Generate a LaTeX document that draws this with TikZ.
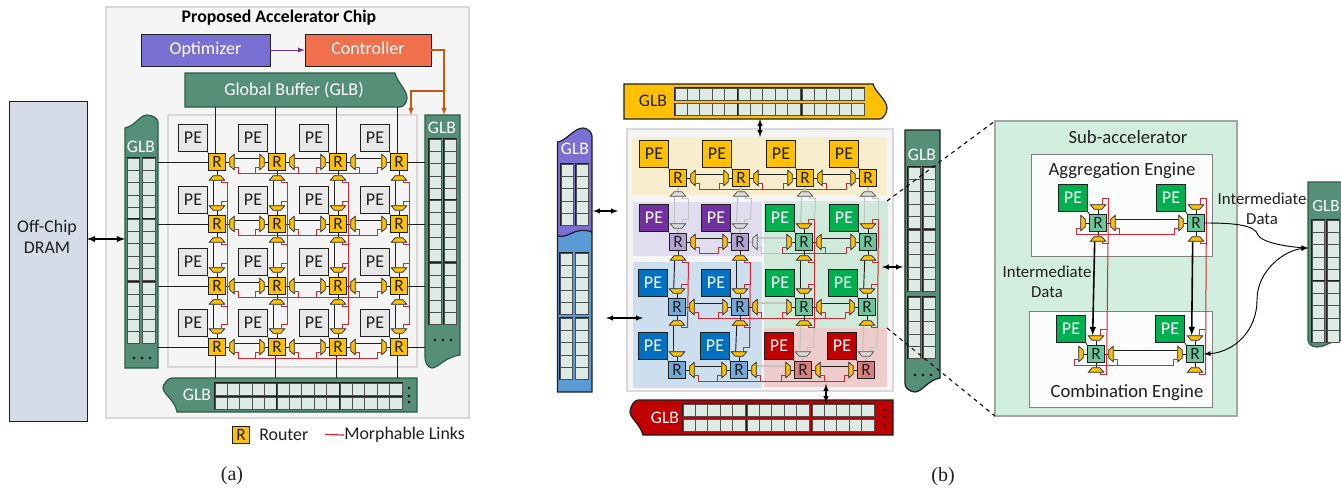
\documentclass[tikz,border=0pt]{standalone}
\usepackage{fontspec}
\setmainfont{Carlito}
\newfontfamily\capfont{Liberation Serif}
\usetikzlibrary{shapes.geometric}

% one router side: mux node plus the stub back to the router
\newcommand{\muxE}[2]{\node[muxbox,mux#2,rotate=90] (#1e) at ([xshift=11.25pt]#1.center) {};\draw[wire#2] (#1.east) -- (#1e.north);}
\newcommand{\muxW}[2]{\node[muxbox,mux#2,rotate=-90] (#1w) at ([xshift=-11.25pt]#1.center) {};\draw[wire#2] (#1.west) -- (#1w.north);}
\newcommand{\muxS}[2]{\node[muxbox,mux#2] (#1s) at ([yshift=-12pt]#1.center) {};\draw[wire#2] (#1.south) -- (#1s.north);}
\newcommand{\muxN}[2]{\node[muxbox,mux#2,rotate=180] (#1n) at ([yshift=12pt]#1.center) {};\draw[wire#2] (#1.north) -- (#1n.north);}
% hops between neighbours: A, B, state of A's mux, state of B's mux, state of the wire
\newcommand{\hhop}[5]{\muxE{#1}{#3}\muxW{#2}{#4}\draw[wire#5] ([yshift=3pt]#1e.south) -- ([yshift=3pt]#2w.south);}
\newcommand{\vhop}[5]{\muxS{#1}{#3}\muxN{#2}{#4}\draw[wire#5] ([xshift=-2.5pt]#1s.south) -- ([xshift=-2.5pt]#2n.south);}
% taps from a mux onto a morphable bus
\newcommand{\tapE}[2]{\draw[morph#2] ([yshift=-3.75pt]#1e.south) -- ++(4,0) -- ++(0,6.5) coordinate (#1et);}
\newcommand{\tapW}[2]{\draw[morph#2] ([yshift=-3.75pt]#1w.south) -- ++(-4,0) -- ++(0,6.5) coordinate (#1wt);}
\newcommand{\tapS}[3]{\draw[morph#2] ([xshift=3pt]#1s.south) -- ++(0,#3) -- ++(6.5,0) coordinate (#1st);}
\newcommand{\tapN}[3]{\draw[morph#2] ([xshift=3pt]#1n.south) -- ++(0,-#3) -- ++(6.5,0) coordinate (#1nt);}
% bank of buffer cells: x, y, columns, rows
\newcommand{\cellbank}[4]{\draw[bankedge] (#1,#2) rectangle ({#1+#3*\cellw},{#2+#4*\cellh});
\foreach \i in {1,...,#3}{\foreach \j in {1,...,#4}{\draw[cellbox] ({#1+(\i-1)*\cellw},{#2+(\j-1)*\cellh}) rectangle ({#1+\i*\cellw},{#2+\j*\cellh});}}}
\newcommand{\cellw}{12.4}
\newcommand{\cellh}{12.3}

\tikzset{
  routerbox/.style={draw=ink,line width=0.8pt,minimum width=12.6pt,minimum height=13.2pt,inner sep=0pt,font=\fontsize{13}{13}\selectfont,text=ink},
  pebox/.style={draw=ink,line width=0.8pt,minimum width=21.5pt,minimum height=20.5pt,inner sep=0pt,font=\fontsize{13.5}{13.5}\selectfont},
  muxbox/.style={trapezium,trapezium stretches=true,trapezium left angle=65,trapezium right angle=65,minimum width=11.5pt,minimum height=3.3pt,inner sep=0.2pt,line width=0.5pt},
  muxon/.style={fill=gold,draw=ink},
  muxoff/.style={fill=rule,draw=inkii},
  wireon/.style={draw=ink,line width=0.7pt},
  wireoff/.style={draw=ashline,line width=0.9pt},
  morphon/.style={draw=morph,line width=0.75pt},
  morphoff/.style={draw=ashline,line width=0.75pt},
  bankedge/.style={draw=ink,line width=1pt},
  cellbox/.style={draw=inkii,fill=cell,line width=0.6pt},
  glbshell/.style={line width=0.9pt},
  label/.style={font=\fontsize{13.4}{15.5}\selectfont,text=ink,align=center,inner sep=0pt},
  enginetag/.style={font=\fontsize{14}{14}\selectfont,text=ink,inner sep=0pt},
  smalltag/.style={font=\fontsize{12.6}{15}\selectfont,text=ink,align=center,inner sep=0pt},
  glbtag/.style={font=\fontsize{13.2}{13.2}\selectfont,inner sep=0pt},
  capfig/.style={font=\capfont\fontsize{15}{15}\selectfont,inner sep=0pt,text=ink},
  ctrlbox/.style={draw=ink,text=white,minimum height=24pt,inner sep=0pt,text height=11pt,text depth=4pt,font=\fontsize{13.5}{13.5}\selectfont}
}

\begin{document}
\begin{tikzpicture}[x=0.75pt,y=-0.75pt,>=latex]
\definecolor{ink}{HTML}{1F1F1F}\definecolor{inkii}{HTML}{4F4F4F}
\definecolor{rule}{HTML}{D9D9D9}\definecolor{ashline}{HTML}{C4C4C4}
\definecolor{paper}{HTML}{F5F5F5}\definecolor{pegrey}{HTML}{E8E8E8}
\definecolor{gold}{HTML}{FFC000}\definecolor{morph}{HTML}{CF2B36}
\definecolor{cell}{HTML}{DEEBE4}\definecolor{glbgreen}{HTML}{558F78}
\definecolor{glbedge}{HTML}{2B5C4A}\definecolor{optfill}{HTML}{7A6FD2}
\definecolor{ctlfill}{HTML}{F0704D}\definecolor{optline}{HTML}{7030A0}
\definecolor{ctlline}{HTML}{C55A11}\definecolor{dram}{HTML}{D5DCE8}
\definecolor{pepurple}{HTML}{7030A0}\definecolor{peblue}{HTML}{0070C0}
\definecolor{pegreen}{HTML}{00B050}\definecolor{pered}{HTML}{C00000}
\definecolor{rpurple}{HTML}{B3A2D2}\definecolor{rblue}{HTML}{74A8D8}
\definecolor{rgreen}{HTML}{6CC59B}\definecolor{rred}{HTML}{D97F7F}
\definecolor{zoneyel}{HTML}{F8EECD}\definecolor{zonepur}{HTML}{E0DEEE}
\definecolor{zoneblu}{HTML}{CDDFEE}\definecolor{zonegrn}{HTML}{CFE9DA}
\definecolor{zonered}{HTML}{EFCCCC}\definecolor{glbpurple}{HTML}{7A6FD2}
\definecolor{glbblue}{HTML}{5B9BD5}\definecolor{subfill}{HTML}{D2EEDF}
\useasboundingbox (0,0) rectangle (1341,489);

% ---- (a) proposed chip
\fill[paper,draw=rule,line width=1pt] (106,7) rectangle (469,418);
\fill[paper,draw=rule,line width=1pt] (168,115) rectangle (417,367);
\node[font=\fontsize{13.3}{13.3}\selectfont\bfseries,text=black,inner sep=0pt] (titlea) at (279,18) {Proposed Accelerator Chip};
\node[ctrlbox,fill=optfill,minimum width=97pt] (opt) at (205.5,50) {Optimizer};
\node[ctrlbox,fill=ctlfill,minimum width=94.5pt] (ctl) at (368,50) {Controller};
\draw[->,optline,line width=0.7pt] (opt) -- (ctl);
\node[draw=ink,fill=dram,minimum width=58.5pt,minimum height=240pt,inner sep=0pt] (drm) at (48,261) {};
\node[label] (drmtext) at (47,237) {Off-Chip\\DRAM};

\draw[glbshell,fill=glbgreen,draw=glbedge] (185,73) -- (395,73) .. controls (397,82) and (407,90) .. (407,98) .. controls (407,103) and (403,107) .. (400,107) -- (185,107) -- cycle;
\node[glbtag,text=white,font=\fontsize{13.5}{13.5}\selectfont] (gbuf) at (294,90) {Global Buffer (GLB)};
\draw[glbshell,fill=glbgreen,draw=glbedge] (125,128) .. controls (135,126) and (140,115) .. (147,115) .. controls (153,115) and (158,119) .. (158,122) -- (158,368) -- (125,368) -- cycle;
\node[glbtag,text=white] (glbla) at (141,147) {GLB};
\draw[glbshell,fill=glbgreen,draw=glbedge] (425,115) -- (460,115) -- (460,355) .. controls (445,357) and (438,368) .. (432,368) .. controls (428,368) and (425,362) .. (425,358) -- cycle;
\node[glbtag,text=white] (glbra) at (442,128) {GLB};
\draw[glbshell,fill=glbgreen,draw=glbedge] (172,378) -- (417,378) -- (417,412) -- (177,412) .. controls (175,400) and (163,394) .. (163,388) .. controls (163,384) and (168,378) .. (172,378) -- cycle;
\node[glbtag,text=white] (glbba) at (197,395) {GLB};
\foreach \y in {158,219,282}{\cellbank{127.3}{\y}{1}{5}\cellbank{142.5}{\y}{1}{5}}
\foreach \y in {139,200,263}{\cellbank{429}{\y}{1}{5}\cellbank{444}{\y}{1}{5}}
\foreach \x in {215,277,340}{\cellbank{\x}{383}{5}{1}\cellbank{\x}{397}{5}{1}}
\foreach \x in {134,142,150}{\fill[black] (\x,358) circle (1.4);}
\foreach \x in {435,443,451}{\fill[black] (\x,340) circle (1.4);}
\foreach \y in {388,396,402}{\fill[black] (409,\y) circle (1.4);}
\coordinate (dramport) at (87,239);\coordinate (glbport) at (125,239);
\draw[<->,line width=1.1pt,black] (dramport) -- (glbport);
\coordinate (gbufedge) at (0,107);\coordinate (bgedge) at (0,378);
\coordinate (lgedge) at (158,0);\coordinate (rgedge) at (425,0);

\foreach \r/\y in {1/162,2/224,3/286,4/347}{\foreach \c/\x in {1/217,2/277,3/338,4/399}{
  \node[routerbox,fill=gold] (a\r\c) at (\x,\y) {R};
  \node[pebox,fill=pegrey,text=ink] (pa\r\c) at ({\x-24},{\y-24}) {PE};
  \draw[wireon] (pa\r\c.south east) -- (a\r\c.north west);}}
\foreach \c in {1,2,3,4}{
  \draw[wireon] ([xshift=-1.5pt]a1\c.north) -- ([xshift=-1.5pt]a1\c.north |- gbufedge);
  \draw[wireon] ([xshift=-1.5pt]a4\c.south) -- ([xshift=-1.5pt]a4\c.south |- bgedge);}
\foreach \r in {1,2,3,4}{
  \draw[wireon] (a\r1.west) -- (a\r1.west -| lgedge);
  \draw[wireon] (a\r4.east) -- (a\r4.east -| rgedge);
  \foreach \c/\d in {1/2,2/3,3/4}{\hhop{a\r\c}{a\r\d}{on}{on}{on}\tapE{a\r\c}{on}\tapW{a\r\d}{on}}
  \draw[morphon] (a\r1et) -- (a\r4wt);}
\foreach \c in {1,2,3,4}{
  \foreach \r/\q in {1/2,2/3,3/4}{\vhop{a\r\c}{a\q\c}{on}{on}{on}\tapS{a\r\c}{on}{2}\tapN{a\q\c}{on}{4}}
  \draw[morphon] (a1\c st) -- (a4\c nt);}
\coordinate (ctlturn) at (444,91);\coordinate (chiptop) at (444,115);\coordinate (arrayturn) at (411,91);\coordinate (arraytop) at (411,115);
\draw[->,ctlline,line width=0.8pt] (ctl.east) -| (chiptop);
\draw[->,ctlline,line width=0.8pt] (ctlturn) -- (arrayturn) -- (arraytop);

\node[routerbox,fill=gold] (legr) at (241,435) {R};
\node[label,anchor=west] (legrt) at (259,435) {Router};
\node[label,anchor=west] (legmt) at (344,435) {Morphable Links};
\coordinate (legm) at (325,434.5);
\draw[morphon,line width=0.9pt] (legm) -- (legmt.west);
\node[capfig] (capa) at (232,476) {(a)};

% ---- (b) partitioned chip
\fill[paper,draw=rule,line width=1.4pt] (627,129) rectangle (893,391);
\fill[zoneyel] (632,137) rectangle (887,195);
\fill[zonepur] (633,202) rectangle (762,256);
\fill[zoneblu] (633,262) rectangle (762,388);
\fill[zonegrn] (764,201) rectangle (888,328);
\fill[zonered] (764,328) rectangle (887,387);

\draw[glbshell,fill=gold,draw=ink] (624,84) -- (873,84) .. controls (875,92) and (887,100) .. (887,108) .. controls (887,113) and (883,119) .. (880,119) -- (624,119) -- cycle;
\node[glbtag,text=ink] (glbtb) at (653,101) {GLB};
\draw[glbshell,fill=pered,draw=ink] (638,400) -- (893,400) -- (893,435) -- (643,435) .. controls (640,424) and (630,418) .. (630,412) .. controls (630,407) and (634,400) .. (638,400) -- cycle;
\node[glbtag,text=white] (glbbb) at (665,418) {GLB};
\draw[glbshell,fill=glbblue,draw=ink] (557.5,236) .. controls (566,236) and (574,228) .. (581,228) .. controls (586,228) and (592,231) .. (592,233) -- (592,392) -- (557.5,392) -- cycle;
\draw[glbshell,fill=glbpurple,draw=ink] (557.5,142) .. controls (566,141) and (574,128) .. (583,128) .. controls (588,128) and (592,133) .. (592,136) -- (592,232) .. controls (584,229) and (578,230) .. (570,234) .. controls (566,236) and (561,237) .. (557.5,236) -- cycle;
\node[glbtag,text=white] (glblb) at (575,149) {GLB};
\draw[glbshell,fill=glbgreen,draw=ink] (905,130) -- (940,130) -- (940,378) .. controls (928,380) and (922,392) .. (915,392) .. controls (910,392) and (905,388) .. (905,384) -- cycle;
\node[glbtag,text=white] (glbrb) at (922,155) {GLB};
\foreach \x in {675,738,802}{\cellbank{\x}{88}{5}{1}\cellbank{\x}{103.5}{5}{1}}
\foreach \x in {683,747,812}{\cellbank{\x}{404}{5}{1}\cellbank{\x}{419.5}{5}{1}}
\cellbank{561}{164}{1}{5}\cellbank{576}{164}{1}{5}
\foreach \y in {253,318}{\cellbank{560}{\y}{1}{5}\cellbank{575.5}{\y}{1}{5}}
\foreach \y in {167,230,297}{\cellbank{908}{\y}{1}{5}\cellbank{923}{\y}{1}{5}}
\foreach \x in {915,923,931}{\fill[black] (\x,375) circle (1.4);}
\foreach \y in {410,417,425}{\fill[black] (885,\y) circle (1.4);}

\foreach \r/\c/\x/\y/\pc/\rc/\tc in {
  1/1/678/178/gold/gold/ink,1/2/741/178/gold/gold/ink,1/3/805/178/gold/gold/ink,1/4/868/178/gold/gold/ink,
  2/1/678/242/pepurple/rpurple/white,2/2/740/242/pepurple/rpurple/white,2/3/804/242/pegreen/rgreen/white,2/4/868/242/pegreen/rgreen/white,
  3/1/677/307/peblue/rblue/white,3/2/740/307/peblue/rblue/white,3/3/804/307/pegreen/rgreen/white,3/4/867/307/pegreen/rgreen/white,
  4/1/677/370/peblue/rblue/white,4/2/739/370/peblue/rblue/white,4/3/803/370/pered/rred/white,4/4/866/370/pered/rred/white}{
  \node[routerbox,fill=\rc] (b\r\c) at (\x,\y) {R};
  \node[pebox,fill=\pc,text=\tc] (pb\r\c) at ({\x-24},{\y-24}) {PE};
  \draw[wireon] (pb\r\c.south east) -- (b\r\c.north west);}
% horizontal hops
\foreach \c/\d in {1/2,2/3,3/4}{\hhop{b1\c}{b1\d}{on}{on}{on}\tapE{b1\c}{on}\tapW{b1\d}{on}}
\draw[morphon] (b11et) -- (b14wt);
\hhop{b22}{b23}{off}{on}{off}\tapE{b22}{off}\tapW{b23}{on}\draw[morphoff] (b22et) -- (b23wt);
\hhop{b21}{b22}{on}{on}{on}\tapE{b21}{on}\tapW{b22}{on}\draw[morphon] (b21et) -- (b22wt);
\hhop{b23}{b24}{on}{on}{on}\tapE{b23}{on}\tapW{b24}{on}\draw[morphon] (b23wt) -- (b24wt);
\foreach \r in {3,4}{
  \hhop{b\r1}{b\r2}{on}{on}{on}\hhop{b\r2}{b\r3}{on}{on}{off}\hhop{b\r3}{b\r4}{on}{on}{on}
  \foreach \c/\d in {1/2,2/3,3/4}{\tapE{b\r\c}{on}\tapW{b\r\d}{on}}
  \draw[morphon] (b\r1et) -- (b\r4wt);}
% vertical hops
\foreach \c in {1,2}{
  \vhop{b1\c}{b2\c}{off}{off}{off}\tapS{b1\c}{off}{2}\tapN{b2\c}{off}{4}\draw[morphoff] (b1\c st) -- (b2\c nt);}
\foreach \c in {3,4}{
  \vhop{b1\c}{b2\c}{off}{on}{off}\tapS{b1\c}{off}{2}\tapN{b2\c}{on}{4}\draw[morphoff] (b1\c st) -- (b2\c nt);}
\foreach \c in {1,2,3,4}{\vhop{b2\c}{b3\c}{on}{on}{on}\tapS{b2\c}{on}{2}\tapN{b3\c}{on}{4}}
\foreach \c in {1,2}{\vhop{b3\c}{b4\c}{on}{on}{on}\tapS{b3\c}{on}{2}}
\tapN{b42}{on}{4}
\draw[morphon] (b21st) -- (b31st);
\draw[morphon] (b22st) -- (b42nt);
\foreach \c in {3,4}{
  \vhop{b3\c}{b4\c}{on}{off}{off}\tapS{b3\c}{on}{2}\tapN{b4\c}{off}{4}
  \draw[morphoff] (b3\c st) -- (b4\c nt);
  \draw[morphon] (b2\c nt) -- (b3\c st);}

\coordinate (tp1) at (760,119);\coordinate (tp2) at (760,137);
\coordinate (bt1) at (826,384);\coordinate (bt2) at (826,403);
\coordinate (lp1) at (593,211);\coordinate (lp2) at (618,211);
\coordinate (lq1) at (606,318);\coordinate (lq2) at (643,318);
\coordinate (rp1) at (882,267);\coordinate (rp2) at (903,267);
\foreach \s/\e in {tp1/tp2,bt1/bt2,lp1/lp2,lq1/lq2,rp1/rp2}{\draw[<->,line width=0.8pt,black] (\s) -- (\e);}
\node[capfig] (capb) at (943,477) {(b)};

% ---- sub-accelerator
\draw[fill=subfill,draw=gray!70,line width=0.8pt] (995,121) rectangle (1237,416);
\coordinate (dsa) at (887,201);\coordinate (dsb) at (995,121);
\coordinate (dsc) at (887,328);\coordinate (dsd) at (995,416);
\draw[dashed,line width=0.8pt,black] (dsa) -- (dsb);
\draw[dashed,line width=0.8pt,black] (dsc) -- (dsd);
\node[enginetag] (subt) at (1128,137) {Sub-accelerator};
\draw[fill=white,fill opacity=0.9,draw=gray,line width=0.6pt] (1031,154) rectangle (1212,256);
\draw[fill=white,fill opacity=0.9,draw=gray,line width=0.6pt] (1029,311) rectangle (1212,407);
\node[enginetag] (aggt) at (1122,171) {Aggregation Engine};
\node[enginetag] (combt) at (1127,393) {Combination Engine};
\foreach \n/\x/\y in {s1/1098/223,s2/1196/223,s3/1096/354,s4/1195/354}{
  \node[routerbox,fill=rgreen] (\n) at (\x,\y) {R};
  \node[pebox,fill=pegreen,text=white] (p\n) at ({\x-25},{\y-25}) {PE};
  \draw[wireon] (p\n.south east) -- (\n.north west);
  \muxN{\n}{on}\muxS{\n}{on}\muxW{\n}{on}\tapN{\n}{on}{6}\tapS{\n}{on}{2}\tapW{\n}{on}}
\foreach \n/\m in {s1/s2,s3/s4}{
  \muxE{\n}{on}\tapE{\n}{on}
  \draw[wireon] ([yshift=3pt]\n e.south) -- ([yshift=3pt]\m w.south);
  \draw[morphon] (\n wt) -- (\m wt);}
\foreach \n/\m in {s1/s3,s2/s4}{
  \draw[->,line width=1.2pt,black] ([xshift=-2.5pt]\n s.south) -- ([xshift=-2.5pt]\m n.south);
  \draw[morphon] (\n nt) -- (\m st);}
\node[smalltag] (imdl) at (1047,282) {Intermediate\\Data};
\node[smalltag] (imdr) at (1262,209) {Intermediate\\Data};

\draw[glbshell,fill=glbgreen,draw=glbedge] (1308,182) -- (1342,182) -- (1342,340) .. controls (1330,341) and (1325,347) .. (1317,347) .. controls (1312,347) and (1308,344) .. (1308,340) -- cycle;
\node[glbtag,text=white,font=\fontsize{12.8}{12.8}\selectfont] (glbsub) at (1326,206) {GLB};
\foreach \y in {220,281}{\cellbank{1312}{\y}{1}{5}\cellbank{1327}{\y}{1}{5}}
\coordinate (glbin) at (1308,248);
\draw[->,line width=0.7pt,black] (s2.east) .. controls (1235,223) and (1255,225) .. (1258,235) .. controls (1262,243) and (1290,247) .. (glbin);
\draw[<->,line width=0.7pt,black] (s4.east) .. controls (1235,352) and (1257,330) .. (1257,300) .. controls (1257,270) and (1285,250) .. (glbin);
\end{tikzpicture}
\end{document}
